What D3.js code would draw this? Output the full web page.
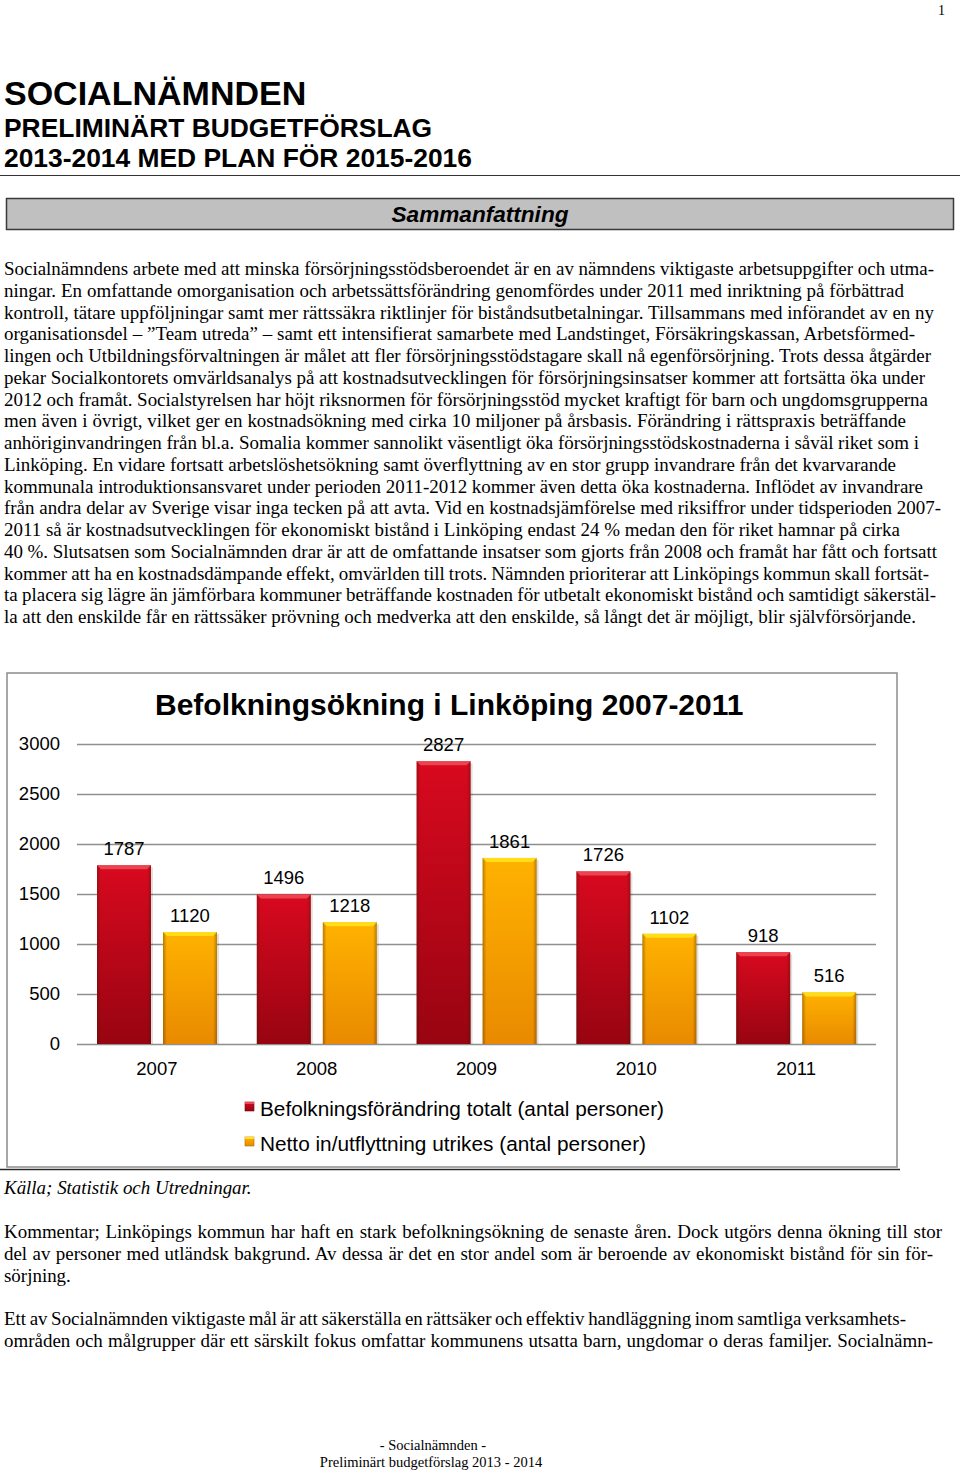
<!DOCTYPE html>
<html>
<head>
<meta charset="utf-8">
<script src="https://cdn.jsdelivr.net/npm/d3@7"></script>
<style>
  html, body { margin: 0; padding: 0; background: #fff; }
  svg { display: block; }
  .serif { font-family: "Liberation Serif", "Times New Roman", serif; fill: #000; }
  .sans  { font-family: "Liberation Sans", Arial, sans-serif; fill: #000; }
</style>
</head>
<body>
<svg id="page" width="960" height="1473"></svg>
<script>
// ── Chart data ───────────────────────────
const years        = ['2007', '2008', '2009', '2010', '2011'];
const totalChange  = [1787, 1496, 2827, 1726, 918];   // Befolkningsförändring totalt
const netMigration = [1120, 1218, 1861, 1102, 516];   // Netto in/utflyttning utrikes
const yTicks       = [0, 500, 1000, 1500, 2000, 2500, 3000];
const seriesNames  = [
  'Befolkningsförändring totalt (antal personer)',
  'Netto in/utflyttning utrikes (antal personer)'
];

// ── Page text (line breaks as in the source; number = right edge of the line) ──
const summaryLines = [
  ['Socialnämndens arbete med att minska försörjningsstödsberoendet är en av nämndens viktigaste arbetsuppgifter och utma-', 934],
  ['ningar. En omfattande omorganisation och arbetssättsförändring genomfördes under 2011 med inriktning på förbättrad', 904],
  ['kontroll, tätare uppföljningar samt mer rättssäkra riktlinjer för biståndsutbetalningar. Tillsammans med införandet av en ny', 934],
  ['organisationsdel – ”Team utreda” – samt ett intensifierat samarbete med Landstinget, Försäkringskassan, Arbetsförmed-', 915],
  ['lingen och Utbildningsförvaltningen är målet att fler försörjningsstödstagare skall nå egenförsörjning. Trots dessa åtgärder', 931],
  ['pekar Socialkontorets omvärldsanalys på att kostnadsutvecklingen för försörjningsinsatser kommer att fortsätta öka under', 925],
  ['2012 och framåt. Socialstyrelsen har höjt riksnormen för försörjningsstöd mycket kraftigt för barn och ungdomsgrupperna', 928],
  ['men även i övrigt, vilket ger en kostnadsökning med cirka 10 miljoner på årsbasis. Förändring i rättspraxis beträffande', 906],
  ['anhöriginvandringen från bl.a. Somalia kommer sannolikt väsentligt öka försörjningsstödskostnaderna i såväl riket som i', 919],
  ['Linköping. En vidare fortsatt arbetslöshetsökning samt överflyttning av en stor grupp invandrare från det kvarvarande', 896],
  ['kommunala introduktionsansvaret under perioden 2011-2012 kommer även detta öka kostnaderna. Inflödet av invandrare', 923],
  ['från andra delar av Sverige visar inga tecken på att avta. Vid en kostnadsjämförelse med riksiffror under tidsperioden 2007-', 941],
  ['2011 så är kostnadsutvecklingen för ekonomiskt bistånd i Linköping endast 24 % medan den för riket hamnar på cirka', 900],
  ['40 %. Slutsatsen som Socialnämnden drar är att de omfattande insatser som gjorts från 2008 och framåt har fått och fortsatt', 937],
  ['kommer att ha en kostnadsdämpande effekt, omvärlden till trots. Nämnden prioriterar att Linköpings kommun skall fortsät-', 929],
  ['ta placera sig lägre än jämförbara kommuner beträffande kostnaden för utbetalt ekonomiskt bistånd och samtidigt säkerstäl-', 936],
  ['la att den enskilde får en rättssäker prövning och medverka att den enskilde, så långt det är möjligt, blir självförsörjande.', 916]
];
const commentLines = [
  ['Kommentar; Linköpings kommun har haft en stark befolkningsökning de senaste åren. Dock utgörs denna ökning till stor', 942, 1238],
  ['del av personer med utländsk bakgrund. Av dessa är det en stor andel som är beroende av ekonomiskt bistånd för sin för-', 933, 1260],
  ['sörjning.', null, 1282],
  ['Ett av Socialnämnden viktigaste mål är att säkerställa en rättsäker och effektiv handläggning inom samtliga verksamhets-', 906, 1325],
  ['områden och målgrupper där ett särskilt fokus omfattar kommunens utsatta barn, ungdomar o deras familjer. Socialnämn-', 933, 1347]
];

const svg = d3.select('#page');
const TEXT_X = 4;

// pick one body font size from the widest lines, then even out each line with word-spacing
function bodyFontSize() {
  const probe = svg.append('text').attr('class', 'serif').attr('font-size', 17);
  let nat = 0, tgt = 0;
  summaryLines.concat(commentLines).forEach(([txt, endX]) => {
    if (endX == null) return;
    probe.text(txt);
    nat += probe.node().getComputedTextLength();
    tgt += endX - TEXT_X;
  });
  probe.remove();
  return 17 * tgt / nat;
}
const BODY_FS = Math.min(19, bodyFontSize());

function fitLine(sel, endX) {
  if (endX == null) return;
  const natural = sel.node().getComputedTextLength();
  const spaces = (sel.text().match(/ /g) || []).length;
  if (!spaces) return;
  sel.attr('word-spacing', ((endX - TEXT_X - natural) / spaces).toFixed(3));
}

// ── Header ────────────────────────────────
svg.append('text').attr('class', 'serif').attr('x', 938).attr('y', 15)
  .attr('font-size', 14).text('1');

svg.append('text').attr('class', 'sans').attr('x', TEXT_X).attr('y', 105)
  .attr('font-size', 34).attr('font-weight', 'bold').text('SOCIALNÄMNDEN');
svg.append('text').attr('class', 'sans').attr('x', TEXT_X).attr('y', 137)
  .attr('font-size', 26.4).attr('font-weight', 'bold').text('PRELIMINÄRT BUDGETFÖRSLAG');
svg.append('text').attr('class', 'sans').attr('x', TEXT_X).attr('y', 167)
  .attr('font-size', 26.4).attr('font-weight', 'bold').text('2013-2014 MED PLAN FÖR 2015-2016');
svg.append('line').attr('x1', 0).attr('x2', 960).attr('y1', 175.5).attr('y2', 175.5)
  .attr('stroke', '#333').attr('stroke-width', 1.2);

svg.append('rect').attr('x', 6.5).attr('y', 198.5).attr('width', 947).attr('height', 31)
  .attr('fill', '#c0c0c0').attr('stroke', '#3a3a3a').attr('stroke-width', 1.5);
svg.append('text').attr('class', 'sans').attr('x', 480).attr('y', 222)
  .attr('text-anchor', 'middle').attr('font-size', 22.6)
  .attr('font-weight', 'bold').attr('font-style', 'italic').text('Sammanfattning');

// ── Summary paragraph ─────────────────────
summaryLines.forEach(([txt, endX], i) => {
  const t = svg.append('text').attr('class', 'serif')
    .attr('x', TEXT_X).attr('y', 275 + i * 21.75)
    .attr('font-size', BODY_FS).text(txt);
  fitLine(t, endX);
});

// ── Chart ─────────────────────────────────
const box = { x: 7, y: 673, w: 890, h: 494 };
svg.append('rect').attr('x', box.x).attr('y', box.y).attr('width', box.w).attr('height', box.h)
  .attr('fill', '#fff').attr('stroke', '#8c8c8c').attr('stroke-width', 1.5);
svg.append('line').attr('x1', 0).attr('x2', 900).attr('y1', 1169.5).attr('y2', 1169.5)
  .attr('stroke', '#2a2a2a').attr('stroke-width', 1.5);

const defs = svg.append('defs');
function vGrad(id, top, bottom) {
  const g = defs.append('linearGradient').attr('id', id)
    .attr('x1', 0).attr('y1', 0).attr('x2', 0).attr('y2', 1);
  g.append('stop').attr('offset', '0%').attr('stop-color', top);
  g.append('stop').attr('offset', '100%').attr('stop-color', bottom);
}
vGrad('gRed', '#d8091f', '#980411');
vGrad('gOrange', '#ffb200', '#e98a00');
const edge = defs.append('linearGradient').attr('id', 'gEdge')
  .attr('x1', 0).attr('y1', 0).attr('x2', 1).attr('y2', 0);
[['0%', 0.35], ['7%', 0], ['93%', 0], ['100%', 0.35]].forEach(([o, a]) =>
  edge.append('stop').attr('offset', o).attr('stop-color', '#3a1a00').attr('stop-opacity', a));

const seriesStyle = [
  { fill: 'url(#gRed)',    bevel: '#ee4a55', values: totalChange },
  { fill: 'url(#gOrange)', bevel: '#ffe21a', values: netMigration }
];

const x0 = d3.scaleBand().domain(years).range([77, 876]);
const x1 = d3.scaleBand().domain([0, 1]).range([20, 140]).paddingInner(12 / 66);
const y  = d3.scaleLinear().domain([0, 3000]).range([1044, 744]);

// grid + y labels
const yAxis = svg.append('g').attr('transform', 'translate(77,0)')
  .call(d3.axisLeft(y).tickValues(yTicks).tickSize(-(876 - 77)).tickPadding(17)
    .tickFormat(d3.format('d')));
yAxis.select('.domain').remove();
yAxis.selectAll('.tick line').attr('stroke', '#8f8f8f').attr('stroke-width', 1.5);
yAxis.selectAll('.tick text').attr('font-size', 18.5)
  .attr('fill', '#000').attr('font-family', '"Liberation Sans", Arial, sans-serif');

// x labels
const xAxis = svg.append('g').attr('transform', 'translate(0,1044)')
  .call(d3.axisBottom(x0).tickSize(0).tickPadding(18));
xAxis.select('.domain').remove();
xAxis.selectAll('.tick text').attr('font-size', 18.5).attr('fill', '#000')
  .attr('font-family', '"Liberation Sans", Arial, sans-serif');

// bars
const BEV = 4;
years.forEach((yr, i) => {
  const g = svg.append('g').attr('transform', `translate(${x0(yr)},0)`);
  seriesStyle.forEach((s, k) => {
    const v = s.values[i];
    const bx = x1(k), bw = x1.bandwidth(), by = y(v), bh = y(0) - y(v);
    g.append('rect').attr('x', bx + 2).attr('y', by + 2).attr('width', bw).attr('height', bh - 2)
      .attr('fill', '#000').attr('opacity', 0.12);
    g.append('rect').attr('x', bx).attr('y', by).attr('width', bw).attr('height', bh)
      .attr('fill', s.fill);
    g.append('rect').attr('x', bx).attr('y', by).attr('width', bw).attr('height', bh)
      .attr('fill', 'url(#gEdge)');
    g.append('path')
      .attr('d', `M${bx},${by}H${bx + bw}L${bx + bw - BEV},${by + BEV}H${bx + BEV}Z`)
      .attr('fill', s.bevel).attr('opacity', 0.9);
    g.append('text').attr('class', 'sans')
      .attr('x', bx + bw / 2).attr('y', by - 10)
      .attr('text-anchor', 'middle').attr('font-size', 18.5).text(v);
  });
});

// title
svg.append('text').attr('class', 'sans').attr('x', 155).attr('y', 715)
  .attr('font-size', 30).attr('font-weight', 'bold')
  .text('Befolkningsökning i Linköping 2007-2011');

// legend
seriesNames.forEach((name, k) => {
  const ly = 1102 + k * 35;
  svg.append('rect').attr('x', 245).attr('y', ly).attr('width', 9).attr('height', 9)
    .attr('fill', seriesStyle[k].fill).attr('stroke', k ? '#b36b00' : '#7a0010').attr('stroke-width', 0.6);
  svg.append('rect').attr('x', 245).attr('y', ly).attr('width', 9).attr('height', 2)
    .attr('fill', seriesStyle[k].bevel);
  svg.append('text').attr('class', 'sans').attr('x', 260).attr('y', ly + 13.5)
    .attr('font-size', 20.5).attr('textLength', k ? 386 : 404).attr('lengthAdjust', 'spacingAndGlyphs')
    .text(name);
});

// ── Below the chart ───────────────────────
svg.append('text').attr('class', 'serif').attr('x', TEXT_X).attr('y', 1194)
  .attr('font-size', BODY_FS).attr('font-style', 'italic').text('Källa; Statistik och Utredningar.');

commentLines.forEach(([txt, endX, ly]) => {
  const t = svg.append('text').attr('class', 'serif')
    .attr('x', TEXT_X).attr('y', ly).attr('font-size', BODY_FS).text(txt);
  fitLine(t, endX);
});

// footer
svg.append('text').attr('class', 'serif').attr('x', 433).attr('y', 1450)
  .attr('text-anchor', 'middle').attr('font-size', 14.5).text('- Socialnämnden -');
svg.append('text').attr('class', 'serif').attr('x', 431).attr('y', 1467)
  .attr('text-anchor', 'middle').attr('font-size', 14.5).text('Preliminärt budgetförslag 2013 - 2014');
</script>
</body>
</html>
